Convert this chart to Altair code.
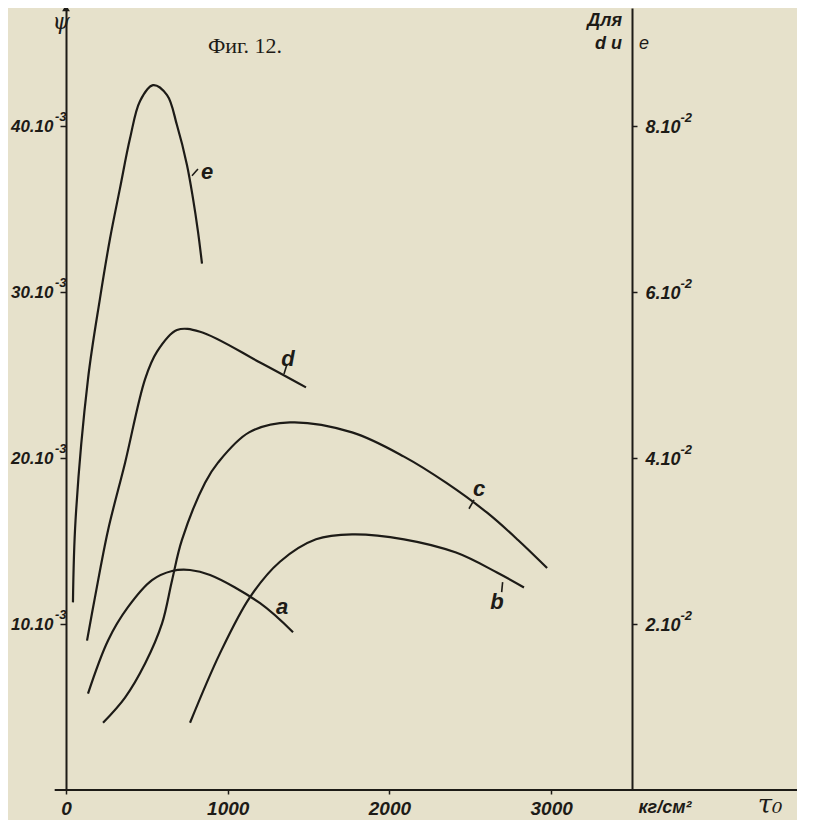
import altair as alt
import pandas as pd

# ---- data (x = tau_0, kg/cm^2) ----
# curves a, b, c : psi in units of 10^-3 (left axis)
a_x = [136, 260, 383, 532, 656, 767, 891, 1200, 1404]
a_y = [5.81, 9.01, 11.01, 12.64, 13.19, 13.25, 12.95, 11.25, 9.5]
b_x = [767, 952, 1138, 1323, 1546, 1769, 2090, 2412, 2665, 2832]
b_y = [4.05, 8.23, 11.62, 13.75, 15.1, 15.4, 15.1, 14.3, 13.1, 12.2]
c_x = [229, 365, 489, 594, 656, 717, 860, 940, 1132, 1385, 1769, 2090, 2350, 2604, 2795, 2975]
c_y = [4.05, 5.57, 7.62, 10.04, 12.64, 15.06, 18.51, 19.72, 21.54, 22.14, 21.54, 20.08, 18.51, 16.70, 15.06, 13.37]
# curves d, e : values in units of 10^-2 (right axis, "Для d и e")
d_x = [130, 179, 260, 365, 489, 563, 686, 829, 1200, 1484]
d_y = [1.80, 2.32, 3.13, 3.94, 4.95, 5.28, 5.54, 5.52, 5.15, 4.85]
e_x = [43, 59, 136, 210, 272, 334, 396, 458, 538, 625, 686, 748, 785, 816, 841]
e_y = [2.26, 3.25, 4.95, 5.92, 6.64, 7.25, 7.85, 8.30, 8.49, 8.37, 8.01, 7.53, 7.13, 6.73, 6.34]

# curve labels
lab_left_text = ["a", "b", "c"]
lab_left_x = [1336, 2665, 2554]
lab_left_y = [11.0, 11.3, 18.1]
lab_right_text = ["d", "e"]
lab_right_x = [1373, 872]
lab_right_y = [5.19, 7.45]
# short leader strokes from curve to label
lead_left_x = [2492, 2700]
lead_left_x2 = [2523, 2694]
lead_left_y = [16.94, 12.52]
lead_left_y2 = [17.48, 11.92]
lead_right_x = [1348, 779]
lead_right_x2 = [1364, 816]
lead_right_y = [5.01, 7.40]
lead_right_y2 = [5.11, 7.48]

x_ticks = [0, 1000, 2000, 3000]
left_ticks = [10, 20, 30, 40]
right_ticks = [2, 4, 6, 8]
axis_extent = [-70, 4550]
unit_x = [3704, 4354]

INK = "#1d1b17"
PAPER = "#e6e1cb"
LBL = "Liberation Sans Narrow, Liberation Sans, sans-serif"

X = alt.Scale(domain=[0, 3500], nice=False, zero=False)
YL = alt.Scale(domain=[0, 47.1], nice=False, zero=False)
YR = alt.Scale(domain=[0, 9.42], nice=False, zero=False)

def frame(xs, ys, name):
    return pd.DataFrame({"x": xs, "y": ys, "curve": name})

left_df = pd.concat([frame(a_x, a_y, "a"), frame(b_x, b_y, "b"), frame(c_x, c_y, "c")])
right_df = pd.concat([frame(d_x, d_y, "d"), frame(e_x, e_y, "e")])

lab_font = dict(labelFont=LBL, labelFontStyle="italic", labelFontWeight="bold", labelColor=INK)

x_axis = alt.Axis(values=x_ticks, title=None, grid=False, domain=False, format="d",
                  tickSize=4, tickColor=INK, tickWidth=1.5, labelFlush=False,
                  labelFontSize=19, labelPadding=5, **lab_font)
yl_axis = alt.Axis(values=left_ticks, title=None, grid=False, domain=True,
                   domainColor=INK, domainWidth=2, tickSize=6, tickColor=INK,
                   tickWidth=1.5, labelExpr="datum.value + '.10'",
                   labelFontSize=17, labelPadding=7, labelOffset=1, **lab_font)
yl_sup = alt.Axis(values=left_ticks, orient="left", title=None, grid=False,
                  domain=False, ticks=False, tickSize=0, labelExpr="'-3'",
                  labelFontSize=13, labelPadding=0, labelOffset=-9, offset=0, **lab_font)
yr_axis = alt.Axis(values=right_ticks, orient="right", title=None, grid=False,
                   domain=True, domainColor=INK, domainWidth=2, tickSize=5,
                   tickColor=INK, tickWidth=1.5, labelExpr="datum.value + '.10'",
                   labelFontSize=18, labelPadding=8, labelOffset=2, **lab_font)
yr_sup = alt.Axis(values=right_ticks, orient="right", title=None, grid=False,
                  domain=False, ticks=False, tickSize=0, labelExpr="'-2'",
                  labelFontSize=13, labelPadding=48, labelOffset=-8, offset=0, **lab_font)

line_kw = dict(interpolate="catmull-rom", strokeWidth=2.2, color=INK)
lbl_kw = dict(font=LBL, fontSize=22, fontStyle="italic", fontWeight="bold",
              color=INK, align="center", baseline="middle")

# ---- group 1: left scale (psi, 10^-3), curves a, b, c ----
lines_l = alt.Chart(left_df).mark_line(**line_kw).encode(
    x=alt.X("x:Q", scale=X, axis=x_axis),
    y=alt.Y("y:Q", scale=YL, axis=yl_axis),
    detail="curve:N",
)
leads_l = alt.Chart(pd.DataFrame({"x": lead_left_x, "x2": lead_left_x2, "y": lead_left_y, "y2": lead_left_y2})).mark_rule(
    color=INK, strokeWidth=1.6).encode(
    x=alt.X("x:Q", scale=X), x2="x2:Q", y=alt.Y("y:Q", scale=YL), y2="y2:Q")
base_rule = alt.Chart(pd.DataFrame({"x": [axis_extent[0]], "x2": [axis_extent[1]], "y": [0]})).mark_rule(
    color=INK, strokeWidth=2.2).encode(
    x=alt.X("x:Q", scale=X), x2="x2:Q", y=alt.Y("y:Q", scale=YL))
arrow = alt.Chart(pd.DataFrame({"x": [0], "y": [47.1]})).mark_point(
    shape="triangle-up", filled=True, size=60, color=INK, opacity=1).encode(
    x=alt.X("x:Q", scale=X), y=alt.Y("y:Q", scale=YL))
unit_kg = alt.Chart(pd.DataFrame({"x": [unit_x[0]]})).mark_text(
    text="кг/см²", font=LBL, fontSize=18, fontStyle="italic", fontWeight="bold",
    color=INK, align="center", baseline="middle").encode(
    x=alt.X("x:Q", scale=X), y=alt.value(800))
unit_tau = alt.Chart(pd.DataFrame({"x": [unit_x[1]]})).mark_text(
    text="τ₀", font="DejaVu Serif, serif", fontSize=26, fontStyle="italic",
    color=INK, align="center", baseline="middle").encode(
    x=alt.X("x:Q", scale=X), y=alt.value(797))

def note(text, x, y, **kw):
    style = dict(font=LBL, fontSize=18, fontStyle="italic", fontWeight="bold",
                 color=INK, baseline="middle", align="center")
    style.update(kw)
    return alt.Chart(alt.Data(values=[{}])).mark_text(text=text, **style).encode(
        x=alt.value(x), y=alt.value(y))

title = note("Фиг. 12.", 179, 38, font="Liberation Serif, DejaVu Serif, serif",
             fontSize=22, fontStyle="normal", fontWeight="normal")
psi = note("ψ", -5, 14, font="DejaVu Serif, serif", fontSize=22, fontWeight="normal")
dla = note("Для", 556, 13, align="right")
du = note("d и", 556, 36, align="right")
ee = note("e", 573, 36, align="left", fontWeight="normal")

g1 = alt.layer(lines_l, leads_l, base_rule, arrow, unit_kg, unit_tau,
               title, psi, dla, du, ee)

# ---- group 2: left scale superscripts + labels a, b, c ----
g2 = alt.Chart(pd.DataFrame({"t": lab_left_text, "x": lab_left_x, "y": lab_left_y})).mark_text(**lbl_kw).encode(
    x=alt.X("x:Q", scale=X), y=alt.Y("y:Q", scale=YL, axis=yl_sup), text="t:N")

# ---- group 3: right scale (10^-2), curves d, e ----
lines_r = alt.Chart(right_df).mark_line(**line_kw).encode(
    x=alt.X("x:Q", scale=X),
    y=alt.Y("y:Q", scale=YR, axis=yr_axis),
    detail="curve:N",
)
leads_r = alt.Chart(pd.DataFrame({"x": lead_right_x, "x2": lead_right_x2, "y": lead_right_y, "y2": lead_right_y2})).mark_rule(
    color=INK, strokeWidth=1.6).encode(
    x=alt.X("x:Q", scale=X), x2="x2:Q", y=alt.Y("y:Q", scale=YR), y2="y2:Q")
g3 = alt.layer(lines_r, leads_r)

# ---- group 4: right scale superscripts + labels d, e ----
g4 = alt.Chart(pd.DataFrame({"t": lab_right_text, "x": lab_right_x, "y": lab_right_y})).mark_text(**lbl_kw).encode(
    x=alt.X("x:Q", scale=X), y=alt.Y("y:Q", scale=YR, axis=yr_sup), text="t:N")

chart = alt.layer(g1, g2, g3, g4).resolve_scale(y="independent").properties(
    width=566, height=782,
    padding={"left": 58, "top": 0, "right": 165, "bottom": 30},
    autosize=alt.AutoSizeParams(type="none"),
    background=PAPER,
).configure_view(stroke=None)

chart.save("out.html", embed_options={"renderer": "svg", "actions": False})
